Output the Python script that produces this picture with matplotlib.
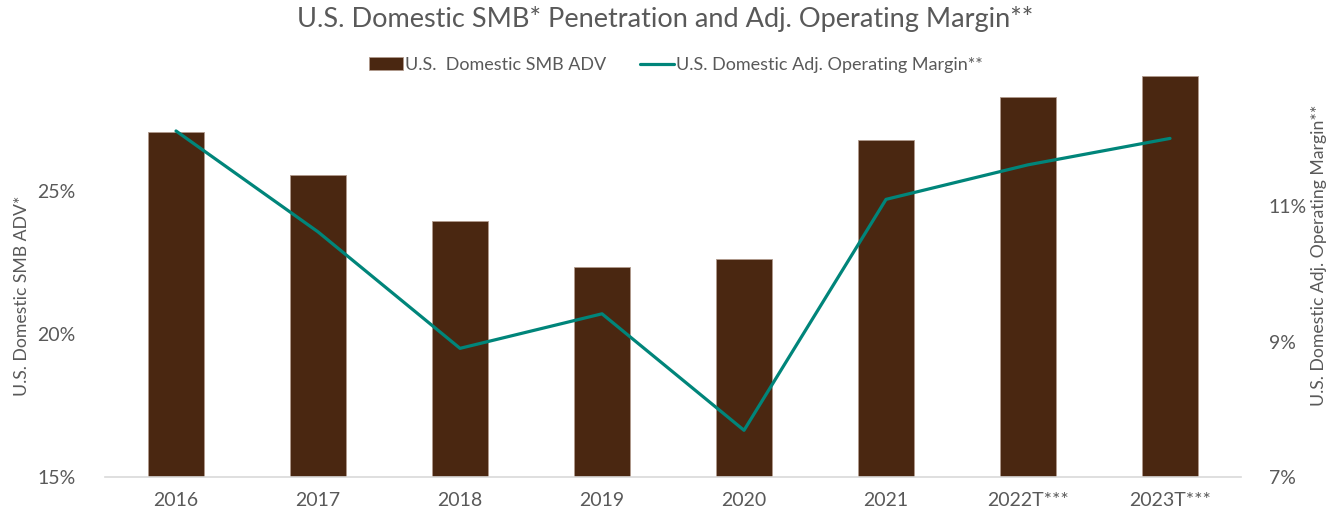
import matplotlib.pyplot as plt
import numpy as np
from matplotlib.ticker import FuncFormatter

### data
years = ['2016', '2017', '2018', '2019', '2020', '2021', '2022T***', '2023T***']
smb_adv = [27.06, 25.56, 23.95, 22.34, 22.62, 26.78, 28.29, 29.02]
op_margin = [12.11, 10.62, 8.90, 9.41, 7.69, 11.10, 11.61, 12.00]

brown = '#4A2711'
teal = '#00857A'
grey = '#595959'

plt.rcParams['font.family'] = ['Lato', 'DejaVu Sans']

fig = plt.figure(figsize=(13.31, 5.19), dpi=100)
ax = fig.add_axes([0.0789, 0.0809, 0.8535, 0.7842])
ax2 = ax.twinx()

x = np.arange(len(years))
bars = ax.bar(x, smb_adv, width=0.39, color=brown, edgecolor='#b09a8c', linewidth=0.6,
              label='U.S.  Domestic SMB ADV', zorder=2)
line, = ax2.plot(x, op_margin, color=teal, linewidth=2.3, label='U.S. Domestic Adj. Operating Margin**',
                 solid_capstyle='round', zorder=3)

### axes limits and ticks
ax.set_xlim(-0.5, len(years) - 0.5)
ax.set_ylim(15, 29.23)
ax.set_yticks([15, 20, 25])
ax2.set_ylim(7, 13.01)
ax2.set_yticks([7, 9, 11])
pct = FuncFormatter(lambda v, p: f'{v:.0f}%')
ax.yaxis.set_major_formatter(pct)
ax2.yaxis.set_major_formatter(pct)
ax.set_xticks(x)
ax.set_xticklabels(years)

for a in (ax, ax2):
    for s in a.spines.values():
        s.set_visible(False)
    a.tick_params(length=0, labelsize=14, colors=grey)
ax.spines['bottom'].set_visible(True)
ax.spines['bottom'].set_color('#d9d9d9')
ax.spines['bottom'].set_linewidth(1.2)
ax.tick_params(axis='x', pad=11)
ax.tick_params(axis='y', pad=21)
ax2.tick_params(axis='y', pad=20)

ax.set_ylabel('U.S. Domestic SMB ADV*', fontsize=12.7, color=grey)
ax.yaxis.set_label_coords(-0.073, 0.445)
ax2.set_ylabel('U.S. Domestic Adj. Operating Margin**', fontsize=12.7, color=grey)
ax2.yaxis.set_label_coords(1.0687, 0.545)
ax2.yaxis.label.set_va('center')
ax.yaxis.label.set_va('center')

ax.set_zorder(ax2.get_zorder() - 1)
ax.patch.set_visible(False)

fig.text(0.5, 0.963, 'U.S. Domestic SMB* Penetration and Adj. Operating Margin**',
         ha='center', va='center', fontsize=19.5, color=grey)
fig.legend(handles=[bars, line], loc='center', bbox_to_anchor=(0.508, 0.875), ncol=2,
           frameon=False, fontsize=13, labelcolor=grey, handlelength=1.85,
           handletextpad=0.12, columnspacing=1.9)

plt.savefig('out.png', dpi=100)
